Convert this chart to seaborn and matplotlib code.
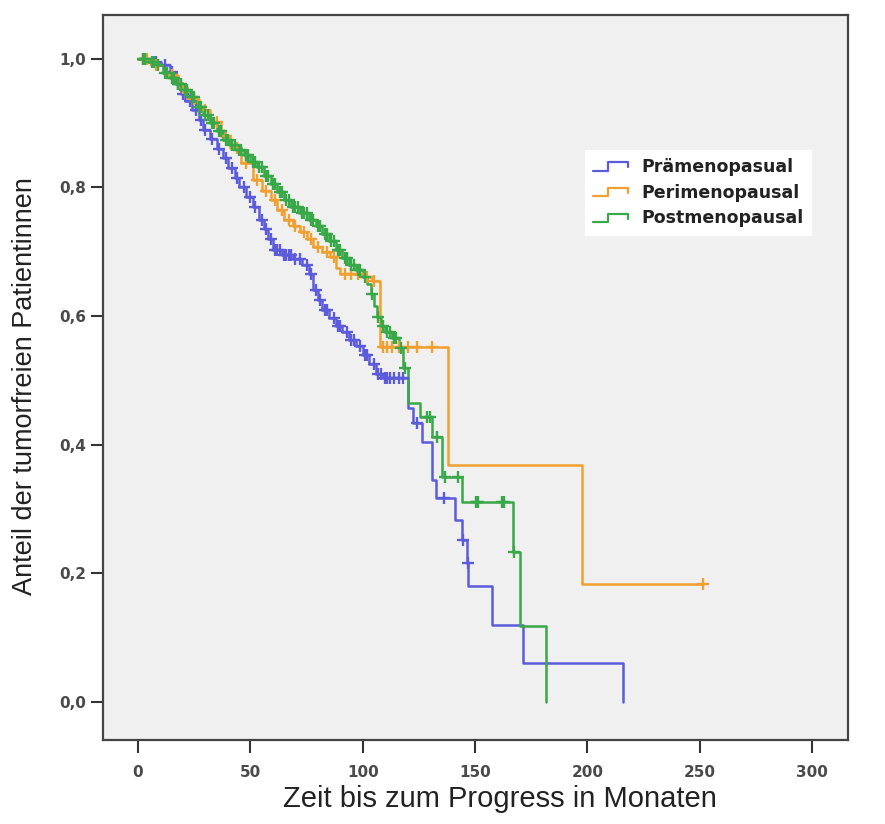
import numpy as np
import pandas as pd
import matplotlib
matplotlib.use("Agg")
import matplotlib.pyplot as plt
import seaborn as sns
from matplotlib.legend_handler import HandlerBase
from matplotlib.lines import Line2D

# ---------------- data ----------------
groups = ["Prämenopasual", "Perimenopausal", "Postmenopausal"]

pre_t = [0, 5, 10, 14, 17, 19, 21, 24, 27, 29, 32, 35, 38, 40, 43, 45, 48, 51, 54, 56, 58, 60,
         64, 69, 73, 76, 78, 80, 82, 85, 88, 91, 94, 97, 100, 103, 106, 109,
         120, 122.5, 126.5, 131, 132.5, 141, 144, 146.5, 147, 157.5, 171.3, 216]
pre_s = [1.0, 0.995, 0.99, 0.98, 0.96, 0.945, 0.935, 0.92, 0.905, 0.89, 0.875, 0.86, 0.845, 0.83, 0.815, 0.8,
         0.785, 0.77, 0.75, 0.735, 0.72, 0.703, 0.695, 0.688, 0.68, 0.665, 0.64, 0.625, 0.61, 0.597, 0.585,
         0.575, 0.563, 0.553, 0.54, 0.525, 0.51, 0.504,
         0.457, 0.434, 0.404, 0.345, 0.317, 0.283, 0.252, 0.216, 0.18, 0.12, 0.06, 0.0]
pre_c = [3, 8, 12, 15, 18, 20, 23, 26, 28, 30, 33, 36, 39, 42, 44, 47, 50, 52, 55, 57, 59, 61, 62,
         63, 65, 66, 67, 68, 70, 72, 75, 77, 79, 81, 83, 84, 87, 89, 90, 93, 95, 96, 99, 101, 102,
         105, 107, 108, 110, 111, 112, 114, 116, 118, 124, 136, 144.6, 146.8]

peri_t = [0, 6, 12, 18, 22, 27, 32, 37, 41, 46, 51, 55, 59, 62, 65, 69, 72, 75, 78, 82, 85.5, 88,
          90, 100, 104, 107.7, 138, 197.6, 251.4]
peri_s = [1.0, 0.99, 0.975, 0.955, 0.937, 0.92, 0.902, 0.88, 0.862, 0.838, 0.812, 0.795, 0.78, 0.765,
          0.75, 0.74, 0.73, 0.72, 0.708, 0.7, 0.692, 0.675, 0.665, 0.66, 0.655, 0.552, 0.369, 0.184, 0.184]
peri_c = [2, 4, 8, 15, 20, 25, 30, 35, 39, 44, 48, 53, 57, 61, 64, 67, 70, 74, 77, 80, 84, 87, 92, 95,
          98, 102, 105, 109, 111, 113, 116, 120, 124, 131, 251.4]

post_t = [0, 4, 8, 11, 14, 17, 20, 23, 26, 29, 32, 35, 38, 41, 44, 47, 50, 53, 56, 59, 62, 65, 68,
          72, 76, 79, 82, 85, 88, 91, 94, 97, 100, 102, 103.5, 105, 106.5, 108, 110, 113, 116, 118,
          120, 125.5, 130.8, 135.3, 144.2, 166.7, 169.8, 181.6]
post_s = [1.0, 0.995, 0.99, 0.978, 0.97, 0.96, 0.952, 0.94, 0.925, 0.912, 0.9, 0.887, 0.874, 0.866,
          0.858, 0.85, 0.84, 0.832, 0.818, 0.805, 0.793, 0.78, 0.77, 0.76, 0.75, 0.74, 0.727, 0.716,
          0.703, 0.69, 0.68, 0.672, 0.66, 0.65, 0.635, 0.615, 0.598, 0.585, 0.575, 0.566, 0.55, 0.52,
          0.465, 0.443, 0.412, 0.35, 0.311, 0.233, 0.118, 0.0]
post_c = [2, 3, 6, 7, 9, 12, 13, 15, 16, 18, 19, 21, 22, 24, 25, 27, 28, 30, 31, 33, 34, 36, 37, 39,
          40, 42, 43, 45, 46, 48, 49, 51, 52, 54, 55, 57, 58, 60, 61, 63, 64, 66, 67, 69, 70, 71, 73,
          74, 75, 77, 78, 80, 81, 83, 84, 86, 87, 89, 90, 92, 93, 95, 96, 98, 99, 101, 104, 107, 109,
          111, 112, 114, 115, 117, 119, 128.5, 130, 133, 136.6, 142.4, 150.5, 151.5, 161.8, 162.8, 167.5]

x_ticks = [0, 50, 100, 150, 200, 250, 300]
y_ticks = [0.0, 0.2, 0.4, 0.6, 0.8, 1.0]
y_tick_labels = ["0,0", "0,2", "0,4", "0,6", "0,8", "1,0"]

colors = ["#5b5bdc", "#f0a030", "#38a848"]

# ---------------- figure ----------------
sns.set_style("white", {"axes.facecolor": "#f0f0f0"})
plt.rcParams["font.family"] = ["Liberation Sans", "DejaVu Sans"]

fig = plt.figure(figsize=(8.85, 8.24), dpi=100)
ax = fig.add_axes([103 / 885, 1 - 740 / 824, (848 - 103) / 885, (740 - 15) / 824])

series = [(pre_t, pre_s, pre_c), (peri_t, peri_s, peri_c), (post_t, post_s, post_c)]
for (t, s, c), name, col in zip(series, groups, colors):
    df = pd.DataFrame({"t": t, "s": s})
    sns.lineplot(data=df, x="t", y="s", drawstyle="steps-post", color=col, lw=1.8,
                 estimator=None, sort=False, legend=False, ax=ax)
    ta = np.asarray(t, float)
    sa = np.asarray(s, float)
    ca = np.asarray(c, float)
    idx = np.searchsorted(ta, ca, side="right") - 1
    cdf = pd.DataFrame({"t": ca, "s": sa[idx]})
    sns.scatterplot(data=cdf, x="t", y="s", marker="+", s=70, color=col, linewidth=1.7,
                    legend=False, ax=ax, zorder=3)

ax.set_xlim(-15.6, 316)
ax.set_ylim(-0.059, 1.068)
ax.set_xticks(x_ticks)
ax.set_xticklabels([str(v) for v in x_ticks])
ax.set_yticks(y_ticks)
ax.set_yticklabels(y_tick_labels)
ax.tick_params(axis="both", direction="out", length=9, width=1.5, color="#333333",
               labelsize=11, labelcolor="#4a4a4a", left=True, bottom=True)
ax.tick_params(axis="x", pad=9)
ax.tick_params(axis="y", pad=3)
for lab in ax.get_xticklabels() + ax.get_yticklabels():
    lab.set_fontweight("bold")
    lab.set_family(["DejaVu Sans"])
for sp in ax.spines.values():
    sp.set_color("#444444")
    sp.set_linewidth(1.6)

ax.set_xlabel("Zeit bis zum Progress in Monaten", fontsize=21, color="#222222")
ax.set_ylabel("Anteil der tumorfreien Patientinnen", fontsize=19.5, color="#222222")
ax.xaxis.set_label_coords((500 - 103) / 745, -(785 - 740) / 725)
ax.yaxis.set_label_coords(-(103 - 38) / 745, (740 - 386) / 725)


class StepHandler(HandlerBase):
    def create_artists(self, legend, orig_handle, xdescent, ydescent, width, height, fontsize, trans):
        x0, w, h = -xdescent, width, height
        y0 = -ydescent
        xs = [x0, x0 + 0.45 * w, x0 + 0.45 * w, x0 + w, x0 + w]
        ys = [y0 + 0.1 * h, y0 + 0.1 * h, y0 + 0.8 * h, y0 + 0.8 * h, y0 + 0.4 * h]
        ln = Line2D(xs, ys, color=orig_handle.get_color(), lw=1.6, transform=trans)
        return [ln]


handles = [Line2D([], [], color=c) for c in colors]
leg = ax.legend(handles, groups, loc="upper left", bbox_to_anchor=((585 - 103) / 745, (740 - 150) / 725),
                borderaxespad=0.0,
                handler_map={Line2D: StepHandler()}, frameon=True, fancybox=False,
                facecolor="white", edgecolor="white", framealpha=1.0,
                prop={"weight": "bold", "size": 12.5, "family": "DejaVu Sans"},
                handlelength=2.0, handletextpad=0.8, labelspacing=0.45, borderpad=0.45)
for txt in leg.get_texts():
    txt.set_color("#222222")

fig.savefig("out.png", dpi=100, facecolor="white")
